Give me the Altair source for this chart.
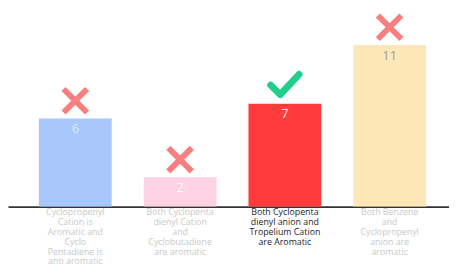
import altair as alt
import pandas as pd

categories = ["A", "B", "C", "D"]
values = [6, 2, 7, 11]
labels = [
    "Cyclopropenyl\nCation is\nAromatic and\nCyclo\nPentadiene is\nanti aromatic",
    "Both Cyclopenta\ndienyl Cation\nand\nCyclobutadiene\nare aromatic",
    "Both Cyclopenta\ndienyl anion and\nTropelium Cation\nare Aromatic",
    "Both Benzene\nand\nCyclopropenyl\nanion are\naromatic",
]
bar_colors = ["#a8c8fb", "#fdd2e2", "#ff3b3b", "#fde6b8"]
value_colors = ["#dce8fe", "#ffffff", "#ffe6e6", "#9c9c9c"]
label_colors = ["#c9c9c9", "#c9c9c9", "#1e1e1e", "#c9c9c9"]
correct = [False, False, True, False]

df = pd.DataFrame({
    "cat": categories,
    "value": values,
    "label": labels,
    "bar_color": bar_colors,
    "value_color": value_colors,
    "label_color": label_colors,
    "correct": correct,
})

x = alt.X("cat:N", sort=categories,
          scale=alt.Scale(paddingInner=0.305, paddingOuter=0.257, align=0.574),
          axis=alt.Axis(title=None, labels=False, ticks=False, domain=True,
                        domainColor="#333333", domainWidth=2))
y = alt.Y("value:Q", scale=alt.Scale(domain=[0, 13.333], nice=False, zero=True),
          axis=None)

base = alt.Chart(df)

bars = base.mark_bar().encode(
    x=x, y=y, color=alt.Color("bar_color:N", scale=None)
)

vals = base.mark_text(baseline="top", dy=5, fontSize=13, font="Open Sans").encode(
    x=alt.X("cat:N", sort=categories), y="value:Q",
    text="value:Q", color=alt.Color("value_color:N", scale=None)
)

labs = base.mark_text(baseline="top", fontSize=9, font="Open Sans", lineBreak="\n",
                      lineHeight=10).encode(
    x=alt.X("cat:N", sort=categories), y=alt.value(202),
    text="label:N", color=alt.Color("label_color:N", scale=None)
)

xs = base.transform_filter("!datum.correct").mark_point(
    shape="M-1,-1L1,1M1,-1L-1,1", filled=False, strokeWidth=6,
    size=576, color="#f77f7f", opacity=1, yOffset=-18
).encode(x=alt.X("cat:N", sort=categories), y="value:Q")

checks = base.transform_filter("datum.correct").mark_point(
    shape="M-1,0L-0.33,0.67L1,-0.75", filled=False, strokeWidth=7,
    size=841, color="#1fcf8b", opacity=1, yOffset=-19, strokeJoin="round",
    strokeCap="round"
).encode(x=alt.X("cat:N", sort=categories), y="value:Q")

chart = alt.layer(bars, vals, labs, xs, checks).properties(
    width=450, height=200,
    autosize=alt.AutoSizeParams(type="none"),
    padding={"left": 0, "top": 0, "right": 0, "bottom": 62},
).configure_view(stroke=None)

chart.save("out.html", embed_options={"renderer": "svg", "actions": False})
